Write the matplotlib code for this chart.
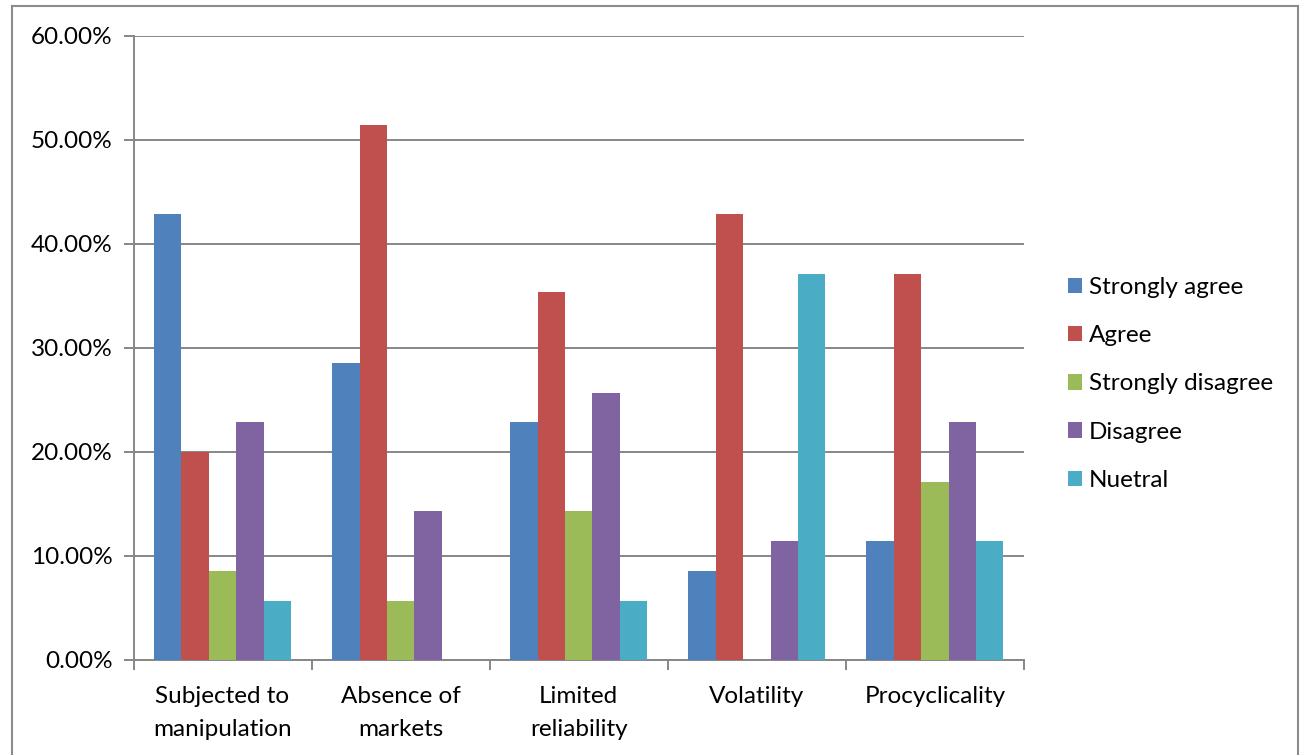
import matplotlib
matplotlib.use("Agg")
import matplotlib.pyplot as plt
from matplotlib.lines import Line2D
from matplotlib.ticker import FuncFormatter, MultipleLocator
import numpy as np

plt.rcParams['font.family'] = ['Lato', 'DejaVu Sans']

categories = ["Subjected to\nmanipulation", "Absence of\nmarkets", "Limited\nreliability",
              "Volatility", "Procyclicality"]
series_names = ["Strongly agree", "Agree", "Strongly disagree", "Disagree", "Nuetral"]
strongly_agree = [42.86, 28.57, 22.86, 8.57, 11.43]
agree = [20.00, 51.43, 35.40, 42.86, 37.14]
strongly_disagree = [8.57, 5.71, 14.29, 0.00, 17.14]
disagree = [22.86, 14.29, 25.71, 11.43, 22.86]
neutral = [5.71, 0.00, 5.71, 37.14, 11.43]
colors = ["#4F81BD", "#C0504D", "#9BBB59", "#8064A2", "#4BACC6"]

series = [strongly_agree, agree, strongly_disagree, disagree, neutral]

W, H = 1302, 755
FS = 17.5
fig = plt.figure(figsize=(W / 100, H / 100), dpi=100)
ax = fig.add_axes([133.5 / W, 1 - 660 / H, (1024 - 133.5) / W, (660 - 36) / H])

n = len(series)
bw = 1 / (n + 1.5)
x = np.arange(len(categories))
for i, (vals, col, name) in enumerate(zip(series, colors, series_names)):
    ax.bar(x + (i - (n - 1) / 2) * bw, vals, width=bw, color=col, label=name,
           zorder=3, linewidth=0)

grid_col = "#878787"
ax.set_xlim(-0.5, len(categories) - 0.5)
ax.set_ylim(0, 60)
ax.yaxis.set_major_locator(MultipleLocator(10))
ax.yaxis.set_major_formatter(FuncFormatter(lambda v, p: f"{v:.2f}%"))
ax.grid(axis="y", color=grid_col, linewidth=1.4, zorder=0)
ax.set_axisbelow(True)

for s in ["top", "right"]:
    ax.spines[s].set_visible(False)
for s in ["left", "bottom"]:
    ax.spines[s].set_color(grid_col)
    ax.spines[s].set_linewidth(1.4)

# category labels centred, tick marks on category boundaries
ax.set_xticks(x)
ax.set_xticklabels(categories, fontsize=FS, linespacing=1.68)
ax.tick_params(axis="x", which="major", length=0, pad=19)
ax.set_xticks(np.arange(len(categories) + 1) - 0.5, minor=True)
ax.tick_params(axis="x", which="minor", length=7, width=1.4, color=grid_col, direction="out")
ax.tick_params(axis="y", length=7, width=1.4, color=grid_col, labelsize=FS, pad=8)

leg = ax.legend(loc="center left", bbox_to_anchor=(1058 / W, 1 - 384 / H),
                bbox_transform=fig.transFigure, frameon=False, fontsize=FS,
                handlelength=0.6, handleheight=0.6, handletextpad=0.28,
                labelspacing=1.12, borderaxespad=0)

# outer chart border
bc = "#8c8c8c"
fig.add_artist(Line2D([12 / W, 12 / W], [0, 1 - 6 / H], transform=fig.transFigure, color=bc, lw=1.5))
fig.add_artist(Line2D([12 / W, 1298 / W], [1 - 6 / H, 1 - 6 / H], transform=fig.transFigure, color=bc, lw=1.5))
fig.add_artist(Line2D([1298 / W, 1298 / W], [0, 1 - 6 / H], transform=fig.transFigure, color=bc, lw=1.5))

fig.savefig("out.png", dpi=100)
